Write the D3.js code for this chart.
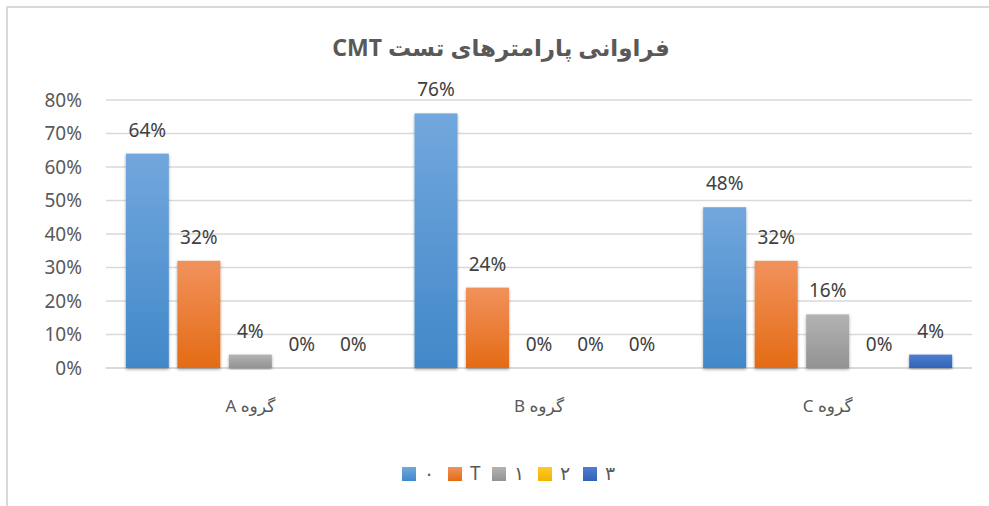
<html>
<head>
<meta charset="utf-8">
<title>CMT chart</title>
<script src="https://cdn.jsdelivr.net/npm/d3@7"></script>
<style>
  body { margin: 0; background: #fff; }
  text { font-family: "Noto Sans", "DejaVu Sans", sans-serif; }
</style>
</head>
<body>
<div id="chart"></div>
<script>

var categories = ["گروه A", "گروه B", "گروه C"];
var seriesNames = ["۰", "T", "۱", "۲", "۳"];
// one array per series, one value per group
var s0 = [0.64, 0.76, 0.48];
var s1 = [0.32, 0.24, 0.32];
var s2 = [0.04, 0.00, 0.16];
var s3 = [0.00, 0.00, 0.00];
var s4 = [0.00, 0.00, 0.04];
var yTicks = [0, 0.1, 0.2, 0.3, 0.4, 0.5, 0.6, 0.7, 0.8];
var chartTitle = "فراوانی پارامترهای تست CMT";

var seriesValues = [s0, s1, s2, s3, s4];
var colors = [
  ["#72a7dd", "#4288c9"],
  ["#f1925c", "#e46b15"],
  ["#b3b3b3", "#939393"],
  ["#ffc929", "#f0b400"],
  ["#4e7ed0", "#3263b8"]
];

var width = 989, height = 506;

var svg = d3.select("#chart").append("svg")
    .attr("width", width)
    .attr("height", height);

var defs = svg.append("defs");
colors.forEach(function(c, i) {
  var g = defs.append("linearGradient")
      .attr("id", "grad" + i)
      .attr("x1", 0).attr("y1", 0).attr("x2", 0).attr("y2", 1);
  g.append("stop").attr("offset", "0%").attr("stop-color", c[0]);
  g.append("stop").attr("offset", "100%").attr("stop-color", c[1]);
});
var shadow = defs.append("filter").attr("id", "shadow")
    .attr("x", "-20%").attr("y", "-5%").attr("width", "140%").attr("height", "115%");
shadow.append("feDropShadow")
    .attr("dx", 0).attr("dy", 1.5).attr("stdDeviation", 1.8)
    .attr("flood-color", "#000").attr("flood-opacity", 0.35);

// outer frame (runs off the right and bottom edge like the original)
svg.append("rect")
    .attr("x", 7).attr("y", 7)
    .attr("width", 1000).attr("height", 520)
    .attr("fill", "none")
    .attr("stroke", "#d9d9d9")
    .attr("stroke-width", 2);

var x0 = d3.scaleBand().domain(categories).range([106, 972]).padding(0);
var x1 = d3.scaleBand().domain(d3.range(seriesNames.length))
    .range([0, x0.bandwidth()])
    .paddingInner(0.165).paddingOuter(0.385);
var y = d3.scaleLinear().domain([0, 0.8]).range([368, 100]);
var pct = d3.format(".0%");

// title (right-to-left paragraph)
svg.append("text")
    .attr("x", 501).attr("y", 56)
    .attr("text-anchor", "middle")
    .attr("direction", "rtl")
    .attr("font-size", 23)
    .attr("font-weight", "bold")
    .attr("fill", "#595959")
    .text(chartTitle);

// gridlines
svg.append("g").selectAll("line")
    .data(yTicks)
  .enter().append("line")
    .attr("x1", 106).attr("x2", 972)
    .attr("y1", function(d) { return y(d); })
    .attr("y2", function(d) { return y(d); })
    .attr("stroke", "#d9d9d9")
    .attr("stroke-width", function(d) { return d === 0 ? 2 : 1.4; });

// y axis labels
var yAxis = d3.axisLeft(y).tickValues(yTicks).tickFormat(pct).tickSize(0).tickPadding(0);
var ya = svg.append("g").attr("transform", "translate(82,0)").call(yAxis);
ya.select(".domain").remove();
ya.selectAll("text")
    .attr("font-size", 19)
    .attr("fill", "#595959")
    .style("font-family", "'Noto Sans', sans-serif");

// x axis labels
var xAxis = d3.axisBottom(x0).tickSize(0).tickPadding(0);
var xa = svg.append("g").attr("transform", "translate(0,400)").call(xAxis);
xa.select(".domain").remove();
xa.selectAll("text")
    .attr("font-size", 17)
    .attr("direction", "rtl")
    .attr("fill", "#595959")
    .style("font-family", "'Noto Sans', 'DejaVu Sans', sans-serif");

// bars
var rows = [];
categories.forEach(function(cat, ci) {
  seriesValues.forEach(function(vals, si) {
    rows.push({ cat: cat, s: si, v: vals[ci] });
  });
});

var bars = svg.append("g");
bars.selectAll("rect")
    .data(rows.filter(function(d) { return d.v > 0; }))
  .enter().append("rect")
    .attr("x", function(d) { return x0(d.cat) + x1(d.s); })
    .attr("y", function(d) { return y(d.v); })
    .attr("width", x1.bandwidth())
    .attr("height", function(d) { return y(0) - y(d.v); })
    .attr("fill", function(d) { return "url(#grad" + d.s + ")"; })
    .attr("filter", "url(#shadow)");

svg.append("g").selectAll("text")
    .data(rows)
  .enter().append("text")
    .attr("x", function(d) { return x0(d.cat) + x1(d.s) + x1.bandwidth() / 2; })
    .attr("y", function(d) { return y(d.v) - 17; })
    .attr("text-anchor", "middle")
    .attr("font-size", 19)
    .attr("fill", "#404040")
    .text(function(d) { return pct(d.v); });

// legend
var legendX = [402, 448, 492, 538, 583];
var legend = svg.append("g").selectAll("g")
    .data(seriesNames)
  .enter().append("g")
    .attr("transform", function(d, i) { return "translate(" + legendX[i] + ",467)"; });
legend.append("rect")
    .attr("width", 14).attr("height", 14)
    .attr("fill", function(d, i) { return "url(#grad" + i + ")"; });
legend.append("text")
    .attr("x", 22).attr("y", 13)
    .attr("font-size", 19)
    .attr("fill", "#595959")
    .text(function(d) { return d; });

</script>
</body>
</html>
